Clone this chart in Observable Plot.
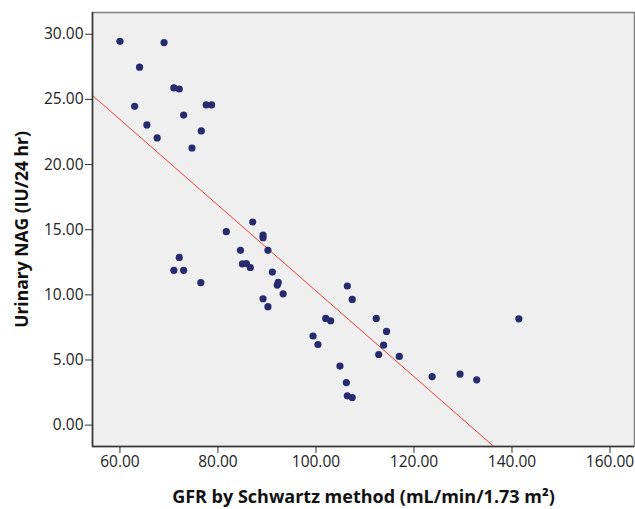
<!DOCTYPE html>
<html>
<head>
<meta charset="utf-8">
<script src="https://cdn.jsdelivr.net/npm/d3@7"></script>
<script src="https://cdn.jsdelivr.net/npm/@observablehq/plot@0.6"></script>
<style>
  html, body { margin: 0; padding: 0; background: #ffffff; }
  #chart { width: 635px; height: 509px; }
</style>
</head>
<body>
<div id="chart"></div>
<script>
// GFR by Schwartz method (mL/min/1.73 m²)
const gfr = [60.0, 69.0, 64.0, 63.0, 71.0, 72.1, 73.0, 65.5, 67.6, 77.6, 78.7, 76.6, 74.7,
  81.7, 87.1, 89.2, 89.2, 84.6, 90.2, 71.0, 72.1, 73.0, 76.5, 85.0, 85.8, 86.6, 91.1,
  92.1, 92.3, 93.3, 89.2, 90.2, 99.4, 100.4, 106.4, 107.4, 102.0, 103.0, 112.3, 114.4,
  113.8, 112.8, 117.0, 104.9, 106.2, 106.4, 107.4, 123.7, 129.4, 132.8, 141.4];
// Urinary NAG (IU/24 hr)
const nag = [29.46, 29.36, 27.47, 24.47, 25.88, 25.80, 23.80, 23.04, 22.04, 24.58, 24.58, 22.58, 21.27,
  14.85, 15.59, 14.59, 14.39, 13.42, 13.42, 11.88, 12.87, 11.88, 10.93, 12.37, 12.40, 12.10, 11.75,
  10.75, 10.95, 10.08, 9.70, 9.09, 6.84, 6.19, 10.68, 9.65, 8.19, 8.01, 8.19, 7.19,
  6.14, 5.42, 5.27, 4.53, 3.27, 2.25, 2.12, 3.73, 3.92, 3.48, 8.16];

// fit line: y = intercept + slope * x
const fitIntercept = 43.2;
const fitSlope = -0.329;

const xTicks = [60, 80, 100, 120, 140, 160];
const yTicks = [0, 5, 10, 15, 20, 25, 30];
const xDomain = [54.4, 165];
const yDomain = [-1.64, 31.67];

const points = gfr.map((g, i) => ({gfr: g, nag: nag[i]}));
const fit = xDomain.map(x => ({gfr: x, nag: fitIntercept + fitSlope * x}));

const fmt = d3.format(".2f");

const chart = Plot.plot({
  width: 635,
  height: 509,
  marginLeft: 92,
  marginTop: 12,
  marginRight: 1,
  marginBottom: 63,
  style: {fontFamily: "'Open Sans', sans-serif", fontSize: "15px", background: "#ffffff", color: "#222"},
  x: {domain: xDomain},
  y: {domain: yDomain},
  marks: [
    Plot.frame({fill: "#efefef", stroke: null}),
    Plot.line(fit, {x: "gfr", y: "nag", stroke: "#ec3b33", strokeWidth: 1, clip: true}),
    Plot.dot(points, {x: "gfr", y: "nag", r: 3.6, fill: "#262a6e", stroke: null}),
    Plot.frame({stroke: "#808080", strokeWidth: 1.5}),
    Plot.ruleX([xDomain[0]], {stroke: "#333", strokeWidth: 1.5}),
    Plot.ruleY([yDomain[0]], {stroke: "#333", strokeWidth: 1.5}),
    Plot.axisX({ticks: xTicks, tickFormat: fmt, tickSize: 7, tickPadding: 2, stroke: "#333",
      fontSize: 15.5, fill: "#222", label: null}),
    Plot.axisY({ticks: yTicks, tickFormat: fmt, tickSize: 7, tickPadding: 2, stroke: "#333",
      fontSize: 15.5, fill: "#222", label: null}),
    Plot.text(["GFR by Schwartz method (mL/min/1.73 m²)"], {
      frameAnchor: "bottom", lineAnchor: "middle", dy: 51, fontSize: 18, fontWeight: "bold", fill: "#111"
    }),
    Plot.text(["Urinary NAG (IU/24 hr)"], {
      frameAnchor: "left", textAnchor: "middle", lineAnchor: "middle", dx: -70, rotate: -90,
      fontSize: 17.5, fontWeight: "bold", fill: "#111"
    })
  ]
});
document.getElementById("chart").appendChild(chart);
</script>
</body>
</html>
